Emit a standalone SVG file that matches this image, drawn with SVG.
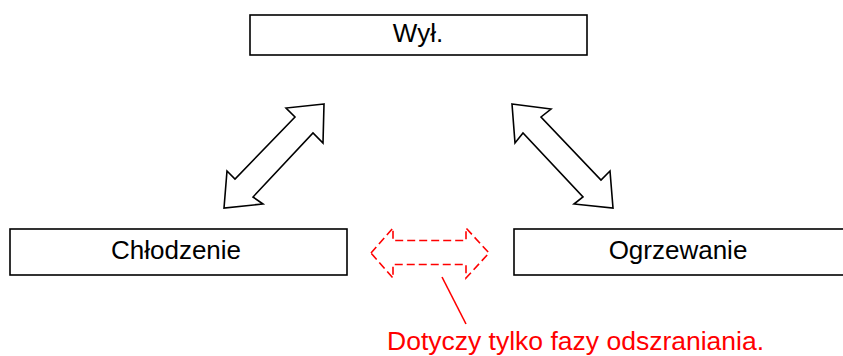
<svg xmlns="http://www.w3.org/2000/svg" width="843" height="356" viewBox="0 0 843 356">
<style>
.box{fill:#fff;stroke:#000;stroke-width:1.6}
.lbl{font-family:"Liberation Sans",Arial,sans-serif;font-size:26px;fill:#000;text-anchor:middle}
.arr{fill:#fff;stroke:#000;stroke-width:1.6;stroke-linejoin:miter}
.darr{fill:none;stroke:#f00;stroke-width:1.6;stroke-dasharray:8 4}
.note{font-family:"Liberation Sans",Arial,sans-serif;font-size:26.5px;fill:#f00}
</style>
<rect width="843" height="356" fill="#fff"/>
<g id="node-off">
<rect class="box" x="250" y="15" width="337" height="40"/>
<text class="lbl" x="418" y="42">Wył.</text>
</g>
<g id="node-cooling">
<rect class="box" x="10" y="229" width="337" height="46"/>
<text class="lbl" x="176" y="258.5">Chłodzenie</text>
</g>
<g id="node-heating">
<rect class="box" x="514" y="229" width="337" height="46"/>
<text class="lbl" x="678" y="258.5">Ogrzewanie</text>
</g>
<g id="connectors">
<polygon class="arr" points="324,104 286,108 295,117 235,179 227,171 224,208 263,204 253,197 313,133 323,143"/>
<polygon class="arr" points="512,104 551,109 541,117 601,180 610,171 613,208 574,204 583,197 523,133 515,143"/>
<polygon class="darr" points="371,253 393,228 393,240.5 466,240.5 466,228 489,253 466,278 466,264.5 393,264.5 393,278"/>
<line x1="442" y1="277" x2="466" y2="324" stroke="#f00" stroke-width="1.6"/>
</g>
<g id="note">
<text class="note" x="387" y="350">Dotyczy tylko fazy odszraniania.</text>
</g>
</svg>
